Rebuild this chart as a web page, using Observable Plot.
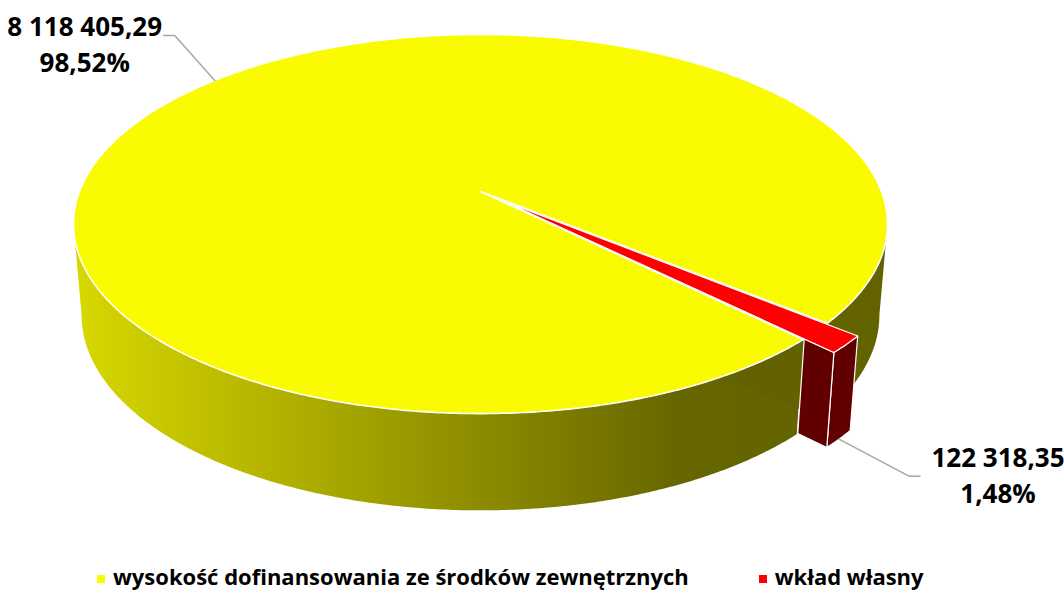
<!DOCTYPE html>
<html><head><meta charset="utf-8">
<script src="https://cdn.jsdelivr.net/npm/d3@7"></script>
<script src="https://cdn.jsdelivr.net/npm/@observablehq/plot@0.6"></script>
<style>
html,body{margin:0;padding:0;background:#fff;overflow:hidden}
#chart svg{display:block}
#legend{height:31px;padding-top:1px;line-height:28px;padding-left:97px;font:700 22px "Open Sans",sans-serif;color:#000;white-space:nowrap}
.sw{display:inline-block;width:8px;height:8px;vertical-align:middle;margin-right:8px}
.item2{margin-left:70px}
</style></head><body>
<div id="chart"></div><div id="legend"></div>
<script>
// ---- data ----
const categories = ["wysokość dofinansowania ze środków zewnętrznych", "wkład własny"];
const values = [8118405.29, 122318.35];

// ---- style / layout ----
const W = 1064, H = 560;
const topColors = ["#fafa00", "#ff0000"];
const sideColors = ["url(#wallGrad)", "#600000"];
const cutColors = ["#626200", "#600000"];
const explode = [0, 0.08];
const G = {cx: 480, cy: 191, a: 401, b: 184, k: 0.1715, depth: 90, kd: 0.07, shrink: 0.98, firstAngle: 135};
const gradStops = [[0, "#d8d800"], [0.746, "#666600"], [1, "#626200"]];
const labelLayout = [
  {dx: -40, dy: -45, hx: -11, tx: -79, ty: 1},
  {dx: 70, dy: 37, hx: 11, tx: 78, ty: -9}
];
const lineGap = 36;

// ---- geometry ----
const rad = Math.PI / 180;
const pie = d3.pie().sort(null)
  .startAngle(G.firstAngle * rad).endAngle(G.firstAngle * rad + 2 * Math.PI)(values);
const slices = pie.map((p, i) => {
  const mid = (p.startAngle + p.endAngle) / 2 - Math.PI / 2;
  return {i, t0: p.startAngle - Math.PI / 2, t1: p.endAngle - Math.PI / 2, mid,
    ex: explode[i], ox: explode[i] * Math.cos(mid), oy: explode[i] * Math.sin(mid)};
});
function proj(u, v, bottom) {
  const den = 1 - G.k * v;
  let X = G.cx + G.a * u / den, Y = G.cy + G.b * v / den;
  if (bottom) { X = G.cx + (X - G.cx) * G.shrink; Y += G.depth / (1 - G.kd * v); }
  return {x: X, y: Y};
}
function pt(s, t, r, bottom) { return proj(s.ox + r * Math.cos(t), s.oy + r * Math.sin(t), bottom); }
function arc(s, ta, tb, bottom) {
  const n = Math.max(2, Math.ceil(Math.abs(tb - ta) / (Math.PI / 360)));
  return d3.range(n + 1).map(j => pt(s, ta + (tb - ta) * j / n, 1, bottom));
}
const tmin = Math.asin(G.k), tmax = Math.PI - Math.asin(G.k);

const walls = [], cuts = [], tops = [];
slices.forEach(s => {
  // outer walls (visible front part)
  for (let m = -1; m <= 2; m++) {
    const a = Math.max(s.t0, tmin + 2 * Math.PI * m), b = Math.min(s.t1, tmax + 2 * Math.PI * m);
    if (b > a) {
      const id = `w${s.i}_${m}`;
      const poly = arc(s, a, b, false).concat(arc(s, b, a, true));
      poly.forEach(p => walls.push({...p, id, slice: s.i}));
    }
  }
  // radial cut faces (exploded slices clipped to the part outside the main disc)
  const faceAt = (t) => {
    let rc = 0;
    if (s.ex > 0) {
      const oe = s.ox * Math.cos(t) + s.oy * Math.sin(t);
      const oo = s.ox * s.ox + s.oy * s.oy;
      rc = -oe + Math.sqrt(oe * oe - oo + 1);
    }
    const id = `c${s.i}_${t.toFixed(4)}`;
    [pt(s, t, rc, false), pt(s, t, 1, false), pt(s, t, 1, true), pt(s, t, rc, true)]
      .forEach(p => cuts.push({...p, id, slice: s.i}));
  };
  if (Math.cos(s.t1) > 0) faceAt(s.t1);
  if (-Math.cos(s.t0) > 0) faceAt(s.t0);
  // top face
  const apex = pt(s, 0, 0, false);
  [apex].concat(arc(s, s.t0, s.t1, false)).forEach(p => tops.push({...p, id: `t${s.i}`, slice: s.i}));
});

// gradient extents
const rim0 = arc(slices[0], 0, 2 * Math.PI, false);
const xL = d3.min(rim0, d => d.x), xR = d3.max(rim0, d => d.x);

// labels
const total = d3.sum(values);
const fmtVal = v => d3.format(",.2f")(v).replace(/,/g, " ").replace(".", ",");
const fmtPct = v => (v / total * 100).toFixed(2).replace(".", ",") + "%";
const leaders = [], labelRows = [];
slices.forEach(s => {
  const L = labelLayout[s.i];
  const front = Math.sin(s.mid) > 0;
  const anchor = pt(s, s.mid, 1, front);
  const elbow = {x: anchor.x + L.dx, y: anchor.y + L.dy};
  const end = {x: elbow.x + L.hx, y: elbow.y};
  [anchor, elbow, end].forEach(p => leaders.push({...p, id: s.i}));
  labelRows.push({x: end.x + L.tx, y: end.y + L.ty, text: fmtVal(values[s.i])});
  labelRows.push({x: end.x + L.tx, y: end.y + L.ty + lineGap, text: fmtPct(values[s.i])});
});

const defsMark = (index, scales) => {
  const d = d3.create("svg:defs");
  const g = d.append("linearGradient").attr("id", "wallGrad").attr("gradientUnits", "userSpaceOnUse")
    .attr("x1", scales.x(xL)).attr("x2", scales.x(xR)).attr("y1", 0).attr("y2", 0);
  gradStops.forEach(([o, c]) => g.append("stop").attr("offset", o).attr("stop-color", c));
  return d.node();
};

const marks = [defsMark];
const order = slices.map(s => s.i).sort((a, b) => explode[a] - explode[b]);
order.forEach(i => {
  marks.push(Plot.line(walls.filter(d => d.slice === i), {x: "x", y: "y", z: "id", curve: "linear-closed",
    fill: sideColors[i], stroke: i === 0 ? "none" : "white", strokeWidth: 1.2, strokeLinejoin: "round"}));
  marks.push(Plot.line(cuts.filter(d => d.slice === i), {x: "x", y: "y", z: "id", curve: "linear-closed",
    fill: cutColors[i], stroke: i === 0 ? "none" : "white", strokeWidth: 1.2, strokeLinejoin: "round"}));
});
slices.forEach(s => {
  marks.push(Plot.line(tops.filter(d => d.slice === s.i), {x: "x", y: "y", z: "id", curve: "linear-closed",
    fill: topColors[s.i], stroke: "white", strokeWidth: s.i === 0 ? 1.6 : 1.2, strokeLinejoin: "round"}));
});
marks.push(Plot.line(leaders, {x: "x", y: "y", z: "id", stroke: "#a6a6a6", strokeWidth: 1.5}));
marks.push(Plot.text(labelRows, {x: "x", y: "y", text: "text", textAnchor: "middle", lineAnchor: "bottom",
  fontSize: 26, fontWeight: 700, fontFamily: "Open Sans", fill: "#000"}));

const chart = Plot.plot({
  width: W, height: H, margin: 0,
  x: {domain: [0, W], range: [0, W], axis: null},
  y: {domain: [0, H], range: [0, H], axis: null},
  style: {background: "white", overflow: "visible"},
  marks
});
document.getElementById("chart").append(chart);

// legend
const lg = d3.select("#legend");
categories.forEach((c, i) => {
  const it = lg.append("span").attr("class", i ? "item2" : "item");
  it.append("span").attr("class", "sw").style("background", topColors[i]);
  it.append("span").text(c);
});
</script>
</body></html>
